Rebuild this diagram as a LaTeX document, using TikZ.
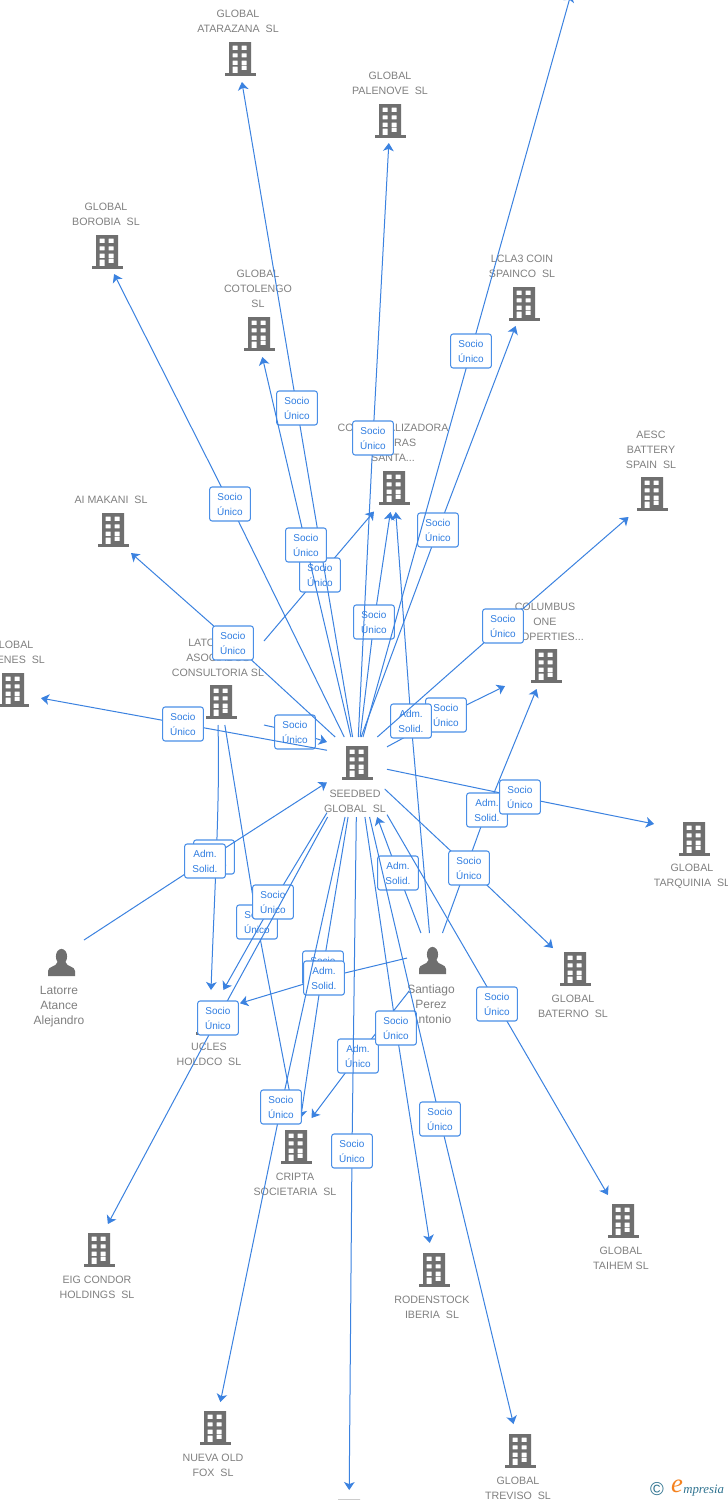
\documentclass[tikz,border=0pt]{standalone}
\usepackage{fontspec}
\setmainfont{Liberation Sans}
\newfontfamily\wmfont{Liberation Serif}
\usetikzlibrary{arrows.meta}
\definecolor{linkblue}{HTML}{3B82E0}
\definecolor{labelblue}{HTML}{2F7DE1}
\definecolor{framblue}{HTML}{4A8FE7}
\definecolor{namegray}{HTML}{808080}
\definecolor{icongray}{HTML}{6F6F6F}
\definecolor{wmteal}{HTML}{2F7390}
\definecolor{wmorange}{HTML}{F5821F}
\tikzset{
  conn/.style={draw=linkblue,line width=0.75pt,-{Stealth[length=6pt,width=8pt,inset=1.6pt]}},
  lab/.style={draw=framblue,line width=0.8pt,fill=white,rounded corners=1.8pt,inner sep=0pt,
    minimum width=30.5pt,minimum height=25.5pt,align=center,text=labelblue,
    font=\fontsize{7.5}{11.25}\selectfont},
  coname/.style={inner sep=0pt,align=center,text=namegray,yshift=-0.6pt,font=\fontsize{8}{11.25}\selectfont},
  pername/.style={inner sep=0pt,align=center,text=namegray,font=\fontsize{9}{11.25}\selectfont},
  hit/.style 2 args={inner sep=0pt,outer sep=0pt,minimum width=#1*1.5pt,minimum height=#2*1.5pt},
  bldicon/.pic={
    \fill[icongray,even odd rule] (-11,-17) rectangle (11,14)
      (-7.5,-13.3) rectangle (-2.5,-9) (1.5,-13.3) rectangle (6.5,-9)
      (-7.5,-5.7) rectangle (-2.5,-1.7) (1.5,-5.7) rectangle (6.5,-1.7)
      (-7.5,1.7) rectangle (-2.5,6) (1.5,1.7) rectangle (6.5,6)
      (-7.5,7.7) rectangle (-2.5,14) (1.5,6.7) rectangle (6.5,11);
    \fill[icongray] (-15.5,14) rectangle (15.5,17);
  },
  pericon/.pic={
    \fill[icongray] (0,-6.5) ellipse (5.6 and 7.6);
    \fill[icongray] (-13.5,13) -- (-13.5,8) .. controls (-13.5,3) and (-5,4) .. (-4,-1)
      -- (4,-1) .. controls (5,4) and (13.5,3) .. (13.5,8) -- (13.5,13) -- cycle;
  },
}
% \conn{source}{label id}{label position}{target}{label text}
\newcommand\conn[5]{%
  \coordinate (#2) at (#3);
  \draw[conn] (#1) -- (#2) -- (#4);
  \node[lab] (n#2) at (#2) {#5};
}
\newcommand\su{Socio\\Único}
\newcommand\ads{Adm.\\Solid.}
\begin{document}
\begin{tikzpicture}[x=0.75pt,y=-0.75pt]
\useasboundingbox (0,0) rectangle (728,1500);
\clip (0,0) rectangle (728,1500);
\fill[white] (0,0) rectangle (728,1500);

% icons
\pic at (240,59) {bldicon};
\pic at (390,121) {bldicon};
\pic at (107,252) {bldicon};
\pic at (259,334) {bldicon};
\pic at (394,488) {bldicon};
\pic at (524,304) {bldicon};
\pic at (652,494) {bldicon};
\pic at (113,530) {bldicon};
\pic at (546,666) {bldicon};
\pic at (221,702) {bldicon};
\pic at (13,690) {bldicon};
\pic at (357,763) {bldicon};
\pic at (694,839) {bldicon};
\pic at (575,969) {bldicon};
\pic at (623,1221) {bldicon};
\pic at (211,1018) {bldicon};
\pic at (99,1250) {bldicon};
\pic at (296,1147) {bldicon};
\pic at (434,1270) {bldicon};
\pic at (215,1428) {bldicon};
\pic at (520,1451) {bldicon};
\pic at (349,1516.6) {bldicon};
\pic at (61.5,963) {pericon};
\pic at (432.5,961) {pericon};

% names
\node[coname] (tatarazana) at (238,20.5) {GLOBAL\\ATARAZANA~~SL};
\node[coname] (tpalenove) at (390,82.5) {GLOBAL\\PALENOVE~~SL};
\node[coname] (tborobia) at (106,213.5) {GLOBAL\\BOROBIA~~SL};
\node[coname] (tcotolengo) at (258,288) {GLOBAL\\COTOLENGO\\SL};
\node[coname] (tcomerc) at (393,442) {COMERCIALIZADORA\\TIERRAS\\SANTA...};
\node[coname] (tlcla) at (522,265.5) {LCLA3 COIN\\SPAINCO~~SL};
\node[coname] (taesc) at (651,449) {AESC\\BATTERY\\SPAIN~~SL};
\node[coname] (tmakani) at (111,499) {AI MAKANI~~SL};
\node[coname] (tcolumbus) at (545,621) {COLUMBUS\\ONE\\PROPERTIES...};
\node[coname] (tlato) at (218,657) {LATORRE Y\\ASOCIADOS\\CONSULTORIA SL};
\node[coname] (tnes) at (12,651.5) {GLOBAL\\PIRENES~~SL};
\node[coname] (tseedbed) at (355,800.5) {SEEDBED\\GLOBAL~~SL};
\node[coname] (ttarquinia) at (692,875.5) {GLOBAL\\TARQUINIA~~SL};
\node[coname] (tbaterno) at (573,1005.5) {GLOBAL\\BATERNO~~SL};
\node[coname] (ttaihem) at (621,1257.5) {GLOBAL\\TAIHEM SL};
\node[coname] (tucles) at (209,1053.5) {UCLES\\HOLDCO~~SL};
\node[coname] (teig) at (97,1286.5) {EIG CONDOR\\HOLDINGS~~SL};
\node[coname] (tcripta) at (295,1183.5) {CRIPTA\\SOCIETARIA~~SL};
\node[coname] (trodenstock) at (432,1306.5) {RODENSTOCK\\IBERIA~~SL};
\node[coname] (tnueva) at (213,1464.5) {NUEVA OLD\\FOX~~SL};
\node[coname] (ttreviso) at (518,1487.5) {GLOBAL\\TREVISO~~SL};
\node[pername] (tlatorre) at (59,1006.5) {Latorre\\Atance\\Alejandro};
\node[pername] (tsantiago) at (431,1004.5) {Santiago\\Perez\\Antonio};

% invisible hit boxes used as connector ends
\node[hit={20}{23}] (atarazana) at (238,59) {};
\node[hit={20}{22}] (palenove) at (390,121) {};
\node[hit={20}{22}] (borobia) at (103,252) {};
\node[hit={20}{23}] (cotolengo) at (257,334) {};
\node[hit={20}{24}] (comerc) at (394,488) {};
\node[hit={20}{22}] (lcla) at (524,304) {};
\node[hit={30}{23}] (aesc) at (655,494) {};
\node[hit={30}{23}] (makani) at (105,530) {};
\node[hit={41}{23}] (columbus) at (546,666) {};
\node[hit={46}{42}] (latbox) at (218,683) {};
\node[hit={28}{23}] (nes) at (13,693) {};
\node[hit={30}{26}] (seedbed) at (357,763) {};
\node[hit={30}{54}] (seedbedlow) at (357,763) {};
\node[hit={40}{23}] (tarquinia) at (694,832) {};
\node[hit={22}{25}] (baterno) at (575,969) {};
\node[hit={22}{26}] (taihem) at (623,1221) {};
\node[hit={29}{22}] (ucles) at (211,1012) {};
\node[hit={22}{26}] (eig) at (94,1250) {};
\node[hit={30}{18}] (cripta) at (298,1136) {};
\node[hit={22}{27}] (rodenstock) at (434,1270) {};
\node[hit={22}{26}] (nueva) at (215,1428) {};
\node[hit={22}{27}] (treviso) at (520,1451) {};
\node[hit={22}{26}] (unnamedbottom) at (349,1516) {};
\node[hit={23}{17}] (latorre) at (61,955) {};
\node[hit={25}{29}] (santiago) at (432,962) {};
\coordinate (offtop) at (571,-6);

% connectors, in drawing order
\conn{seedbed}{a1}{446,715}{columbus}{\su}
\coordinate (a2) at (214,857);
\draw[conn] (latbox.south) .. controls (220,800) and (215,880) .. (ucles.north);
\node[lab] (na2) at (a2) {\su};
\conn{latbox}{a3}{257,922}{cripta}{\su}
\conn{latbox.north east}{a4}{320,575}{comerc}{\su}
\conn{latbox.south east}{a5}{295,732}{seedbed.145}{\su}
\conn{seedbedlow}{a6}{323,968}{cripta}{\su}

\conn{latorre}{b1}{205,861}{seedbed}{\ads}
\conn{santiago}{b2}{411,721}{comerc}{\ads}
\conn{santiago}{b3}{487,810}{columbus}{\ads}
\conn{santiago.171}{b4}{324,978}{ucles}{\ads}
\conn{santiago}{b5}{358,1056}{cripta}{Adm.\\Único}
\conn{santiago}{b6}{398,873}{seedbedlow}{\ads}

\conn{seedbed}{c1}{374,622}{comerc}{\su}
\conn{seedbed}{c2}{297,408}{atarazana}{\su}
\conn{seedbed}{c3}{373,438}{palenove}{\su}
\conn{seedbed}{c4}{230,504}{borobia}{\su}
\conn{seedbed}{c5}{306,545}{cotolengo}{\su}
\conn{seedbed.81}{c6}{438,530}{lcla}{\su}
\conn{seedbed.77}{c7}{471,351}{offtop}{\su}
\conn{seedbed.130}{c8}{233,643}{makani}{\su}
\conn{seedbed.52}{c9}{503,626}{aesc}{\su}
\conn{seedbed}{c10}{520,797}{tarquinia}{\su}
\conn{seedbed}{c11}{469,868}{baterno}{\su}
\conn{seedbedlow}{c12}{497,1004}{taihem}{\su}
\conn{seedbedlow}{c13}{273,902}{ucles}{\su}
\conn{seedbedlow}{c14}{218,1018}{eig}{\su}
\conn{seedbedlow}{c15}{281,1107}{nueva}{\su}
\conn{seedbedlow}{c16}{352,1151}{unnamedbottom}{\su}
\conn{seedbedlow}{c17}{396,1028}{rodenstock}{\su}
\conn{seedbedlow}{c18}{440,1119}{treviso}{\su}
\conn{seedbed.157}{c19}{183,724}{nes}{\su}

% watermark
\node[inner sep=0pt,text=wmteal,font=\fontsize{14}{14}\selectfont] (wmc) at (657,1489) {©};
\node[inner sep=0pt,text=wmorange,font=\wmfont\itshape\fontsize{20}{20}\selectfont] (wme) at (677,1486) {e};
\node[inner sep=0pt,anchor=west,text=wmteal,font=\wmfont\itshape\fontsize{9.6}{10}\selectfont] (wmr) at (683,1491) {mpresia};
\end{tikzpicture}
\end{document}
